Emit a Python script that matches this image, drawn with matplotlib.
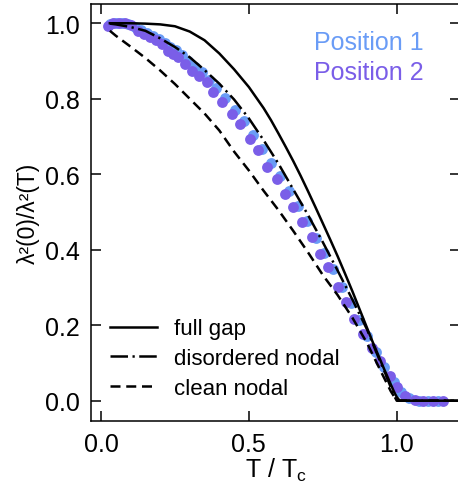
import matplotlib
matplotlib.use('Agg')
import matplotlib.pyplot as plt

plt.rcParams['font.family'] = ['Liberation Sans', 'DejaVu Sans']
plt.rcParams['mathtext.fontset'] = 'custom'
plt.rcParams['mathtext.rm'] = 'Liberation Sans'
plt.rcParams['mathtext.it'] = 'Liberation Sans'

# model curves
full_gap_t = [0.03, 0.10, 0.15, 0.20, 0.25, 0.30, 0.35, 0.40, 0.45, 0.50, 0.55, 0.575, 0.60,
			  0.625, 0.65, 0.675, 0.70, 0.725, 0.75, 0.775, 0.80, 0.825, 0.85, 0.875, 0.90,
			  0.92, 0.94, 0.96, 0.975, 0.99, 1.00, 1.01, 1.22]
full_gap_rho = [1.000, 1.000, 0.999, 0.997, 0.992, 0.978, 0.955, 0.920, 0.878, 0.831, 0.775, 0.743, 0.708,
				0.672, 0.635, 0.596, 0.555, 0.513, 0.470, 0.427, 0.383, 0.337, 0.290, 0.241, 0.192,
				0.153, 0.116, 0.079, 0.052, 0.025, 0.010, 0.0, 0.0]

dirty_t = [0.03, 0.05, 0.10, 0.15, 0.20, 0.25, 0.30, 0.35, 0.40, 0.45, 0.50, 0.55, 0.60,
		   0.65, 0.70, 0.75, 0.80, 0.85, 0.90, 0.93, 0.96, 0.98, 0.99, 1.00, 1.22]
dirty_rho = [0.999, 0.997, 0.990, 0.980, 0.960, 0.937, 0.910, 0.876, 0.840, 0.798, 0.748, 0.690, 0.628,
			 0.560, 0.492, 0.420, 0.345, 0.268, 0.188, 0.130, 0.075, 0.035, 0.015, 0.0, 0.0]

clean_t = [0.03, 0.05, 0.10, 0.15, 0.20, 0.25, 0.30, 0.35, 0.40, 0.45, 0.50, 0.55, 0.60,
		   0.65, 0.70, 0.75, 0.80, 0.85, 0.90, 0.95, 0.98, 1.00, 1.22]
clean_rho = [0.980, 0.967, 0.938, 0.908, 0.875, 0.839, 0.800, 0.761, 0.716, 0.660, 0.610, 0.556, 0.505,
			 0.450, 0.393, 0.333, 0.280, 0.220, 0.152, 0.072, 0.025, 0.0, 0.0]

# measured points
pos1_t = [0.030, 0.050, 0.070, 0.090, 0.115, 0.135, 0.155, 0.175, 0.195, 0.215, 0.235, 0.255,
		  0.275, 0.295, 0.318, 0.340, 0.365, 0.390, 0.420, 0.452, 0.483, 0.515, 0.545, 0.575,
		  0.605, 0.635, 0.665, 0.695, 0.727, 0.755, 0.785, 0.815, 0.845, 0.872, 0.900, 0.930,
		  0.958, 0.990, 1.015, 1.040, 1.075, 1.105, 1.140]
pos1_rho = [0.998, 1.000, 1.000, 0.998, 0.990, 0.982, 0.975, 0.967, 0.958, 0.948, 0.938, 0.928,
			0.915, 0.900, 0.885, 0.870, 0.850, 0.828, 0.802, 0.770, 0.740, 0.703, 0.668, 0.630,
			0.595, 0.555, 0.517, 0.476, 0.430, 0.390, 0.348, 0.300, 0.258, 0.214, 0.172, 0.128,
			0.090, 0.050, 0.022, 0.006, 0.0, 0.0, 0.0]

pos2_t = [0.024, 0.040, 0.060, 0.080, 0.100, 0.125, 0.145, 0.166, 0.185, 0.205, 0.227, 0.245,
		  0.260, 0.284, 0.307, 0.330, 0.357, 0.379, 0.408, 0.442, 0.470, 0.504, 0.531, 0.560,
		  0.594, 0.622, 0.650, 0.679, 0.713, 0.741, 0.768, 0.802, 0.830, 0.857, 0.886, 0.915,
		  0.943, 0.977, 1.000, 1.028, 1.062, 1.090, 1.123, 1.157]
pos2_rho = [0.994, 1.000, 1.000, 1.000, 0.995, 0.980, 0.972, 0.964, 0.955, 0.945, 0.927, 0.918,
			0.910, 0.892, 0.874, 0.860, 0.845, 0.818, 0.791, 0.760, 0.733, 0.693, 0.663, 0.619,
			0.587, 0.548, 0.513, 0.473, 0.434, 0.389, 0.354, 0.300, 0.261, 0.217, 0.177, 0.140,
			0.106, 0.066, 0.036, 0.013, 0.003, 0.0, 0.0, 0.0]

color1 = '#6a9cf6'
color2 = '#7a5ee8'

fig = plt.figure(figsize=(4.58, 4.85), dpi=100)
ax = fig.add_axes([0.1987, 0.1309, 0.8057, 0.8588])

ax.plot(pos1_t, pos1_rho, 'o', color=color1, markersize=7.8, markeredgewidth=0, zorder=2)
ax.plot(pos2_t, pos2_rho, 'o', color=color2, markersize=7.8, markeredgewidth=0, zorder=3)

ax.plot(full_gap_t, full_gap_rho, color='black', lw=1.8, label='full gap', zorder=4)
ax.plot(dirty_t, dirty_rho, color='black', lw=1.8, dashes=(7, 1.8, 0.9, 1.8),
		label='disordered nodal', zorder=4)
ax.plot(clean_t, clean_rho, color='black', lw=1.8, dashes=(4, 2.3),
		label='clean nodal', zorder=4)

ax.text(0.719, 0.95, 'Position 1', color=color1, fontsize=18, va='center', ha='left')
ax.text(0.719, 0.871, 'Position 2', color=color2, fontsize=18, va='center', ha='left')

ax.set_xlim(-0.0338, 1.214)
ax.set_ylim(-0.0525, 1.051)
ax.set_xticks([0.0, 0.5, 1.0])
ax.set_yticks([0.0, 0.2, 0.4, 0.6, 0.8, 1.0])
ax.set_xticklabels(['0.0', '0.5', '1.0'])
ax.set_yticklabels(['0.0', '0.2', '0.4', '0.6', '0.8', '1.0'])
ax.tick_params(direction='in', length=7, width=1.1, labelsize=18, pad=8,
			   top=True, right=True)
for s in ax.spines.values():
	s.set_linewidth(1.1)

ax.set_xlabel('T / T$_\\mathrm{c}$', fontsize=18, labelpad=0)
ax.set_ylabel('λ²(0)/λ²(T)', fontsize=16.5, labelpad=4)

ax.legend(loc='lower left', bbox_to_anchor=(0.027, 0.03), borderaxespad=0,
		  frameon=False, fontsize=16, handlelength=2.1, handletextpad=0.8,
		  labelspacing=0.4)

fig.savefig('out.png', dpi=100)
